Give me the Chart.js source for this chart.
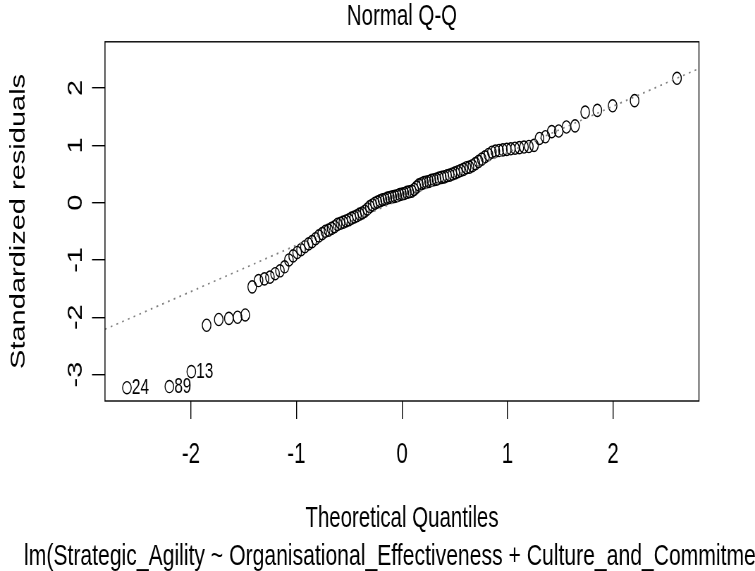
<!DOCTYPE html>
<html><head><meta charset="utf-8">
<script src="https://cdn.jsdelivr.net/npm/chart.js@4/dist/chart.umd.min.js"></script>
<style>html,body{margin:0;padding:0;background:#fff;overflow:hidden;width:755px;height:571px}
canvas{display:block}</style></head>
<body>
<canvas id="c" width="1071" height="571" style="width:755px;height:571px"></canvas>
<script>
// Theoretical quantiles (x)
const xQuantiles = [
-2.606,-2.204,-1.996,-1.851,-1.736,-1.640,-1.558,-1.485,-1.419,-1.359,
-1.303,-1.251,-1.202,-1.156,-1.112,-1.071,-1.031,-0.993,-0.956,-0.920,
-0.885,-0.852,-0.819,-0.787,-0.756,-0.726,-0.696,-0.667,-0.639,-0.611,
-0.583,-0.556,-0.530,-0.504,-0.478,-0.452,-0.427,-0.402,-0.377,-0.352,
-0.328,-0.304,-0.279,-0.256,-0.232,-0.208,-0.185,-0.161,-0.138,-0.115,
-0.092,-0.069,-0.046,-0.023,0,
0.023,0.046,0.069,0.092,0.115,0.138,0.161,0.185,0.208,0.232,
0.256,0.279,0.304,0.328,0.352,0.377,0.402,0.427,0.452,0.478,
0.504,0.530,0.556,0.583,0.611,0.639,0.667,0.696,0.726,0.756,
0.787,0.819,0.852,0.885,0.920,0.956,0.993,1.031,1.071,1.112,
1.156,1.202,1.251,1.303,1.359,1.419,1.485,1.558,1.640,1.736,
1.851,1.996,2.204,2.606];
// Standardized residuals (y)
const stdResiduals = [
-3.23,-3.21,-2.95,-2.14,-2.04,-2.02,-2.00,-1.96,-1.47,-1.36,
-1.33,-1.30,-1.24,-1.19,-1.12,-1.00,-0.93,-0.87,-0.82,-0.77,
-0.72,-0.68,-0.63,-0.58,-0.54,-0.50,-0.48,-0.45,-0.42,-0.38,
-0.36,-0.34,-0.32,-0.30,-0.27,-0.25,-0.23,-0.20,-0.18,-0.15,
-0.11,-0.07,-0.04,-0.01,0.01,0.03,0.05,0.06,0.08,0.09,
0.10,0.11,0.12,0.14,0.15,0.16,0.18,0.19,0.20,0.23,
0.27,0.31,0.33,0.35,0.36,0.37,0.39,0.40,0.41,0.43,
0.44,0.45,0.47,0.48,0.50,0.52,0.54,0.56,0.58,0.61,
0.62,0.645,0.68,0.72,0.76,0.80,0.84,0.88,0.90,0.91,
0.92,0.93,0.94,0.95,0.96,0.97,0.98,1.00,1.12,1.15,
1.24,1.25,1.32,1.34,1.58,1.61,1.69,1.78,2.17];
const pointIds = ['24','89','13'];
const pointIdIndex = [0,1,2];
const refLineX = [-2.814, 2.814];
const refLineY = [-2.21, 2.34];
const xTicks = [-2,-1,0,1,2];
const xTickLabels = ['-2','-1','0','1','2'];
const yTicks = [-3,-2,-1,0,1,2];
const yTickLabels = ['-3','-2','-1','0','1','2'];
const titleText = 'Normal Q-Q';
const xTitle = 'Theoretical Quantiles';
const yTitle = 'Standardized residuals';
const subText = 'lm(Strategic_Agility ~ Organisational_Effectiveness + Culture_and_Commitment)';

const FAMILY = "'Liberation Sans', Arial, Helvetica, sans-serif";
const FS = 29;
Chart.defaults.font.family = FAMILY;
Chart.defaults.font.size = FS;
Chart.defaults.color = '#000';

const decor = {
  id: 'decor',
  afterDatasetsDraw(chart) {
    const {ctx, chartArea: a} = chart;
    ctx.save();
    ctx.strokeStyle = '#000'; ctx.lineWidth = 1.4;
    ctx.strokeRect(a.left, a.top, a.right - a.left, a.bottom - a.top);
    const meta = chart.getDatasetMeta(1);
    ctx.font = (FS*0.75) + 'px ' + FAMILY;
    ctx.fillStyle = '#000'; ctx.textAlign = 'left'; ctx.textBaseline = 'middle';
    pointIdIndex.forEach((idx, k) => {
      const el = meta.data[idx];
      ctx.fillText(pointIds[k], el.x + 7, el.y);
    });
    ctx.restore();
  },
  afterDraw(chart) {
    const {ctx} = chart;
    ctx.save();
    ctx.font = '30px ' + FAMILY;
    ctx.fillStyle = '#000'; ctx.textAlign = 'left'; ctx.textBaseline = 'middle';
    ctx.fillText(subText, 34, 557);
    ctx.restore();
  }
};

new Chart(document.getElementById('c'), {
  type: 'scatter',
  data: {
    datasets: [
      {
        label: 'qqline',
        data: refLineX.map((x, i) => ({x, y: refLineY[i]})),
        showLine: true,
        pointRadius: 0,
        borderColor: '#7f7f7f',
        borderWidth: 1.7,
        borderDash: [2.5, 6],
        fill: false
      },
      {
        label: 'residuals',
        data: xQuantiles.map((x, i) => ({x, y: stdResiduals[i]})),
        pointStyle: 'circle',
        pointRadius: 6.1,
        pointBorderWidth: 1.4,
        borderColor: '#000',
        backgroundColor: 'rgba(0,0,0,0)',
        pointBackgroundColor: 'rgba(0,0,0,0)'
      }
    ]
  },
  options: {
    responsive: false,
    animation: false,
    devicePixelRatio: 1,
    layout: {padding: {left: 0, right: 79.5, top: 0, bottom: 0}},
    plugins: {
      legend: {display: false},
      tooltip: {enabled: false},
      title: {display: true, fullSize: false, text: titleText, color: '#000',
        font: {size: FS, weight: 'normal'}, padding: {top: 0, bottom: 7}}
    },
    scales: {
      x: {
        type: 'linear', position: 'bottom',
        min: -2.814, max: 2.814,
        afterBuildTicks: s => { s.ticks = xTicks.map(v => ({value: v})); },
        afterFit: s => { s.height = 170; },
        border: {display: false},
        grid: {display: true, drawOnChartArea: false, drawTicks: true, tickLength: 18, color: '#000', lineWidth: 1.4},
        ticks: {padding: 18.6, color: '#000', font: {size: FS}, maxRotation: 0,
          callback: (v, i) => xTickLabels[i]},
        title: {display: true, text: xTitle, color: '#000', font: {size: FS}, padding: {top: 0, bottom: 34.6}}
      },
      y: {
        type: 'linear', position: 'left',
        min: -3.462, max: 2.807,
        afterBuildTicks: s => { s.ticks = yTicks.map(v => ({value: v})); },
        afterFit: s => { s.width = 148.9; },
        border: {display: false},
        grid: {display: true, drawOnChartArea: false, drawTicks: true, tickLength: 18.4, color: '#000', lineWidth: 1.4},
        ticks: {padding: 9.8, color: '#000', font: {size: FS}, minRotation: 90, maxRotation: 90, crossAlign: 'center',
          callback: (v, i) => yTickLabels[i]},
        title: {display: true, text: yTitle, color: '#000', font: {size: FS}, padding: {top: 9.6, bottom: 0}}
      }
    }
  },
  plugins: [decor]
});
</script></body></html>
